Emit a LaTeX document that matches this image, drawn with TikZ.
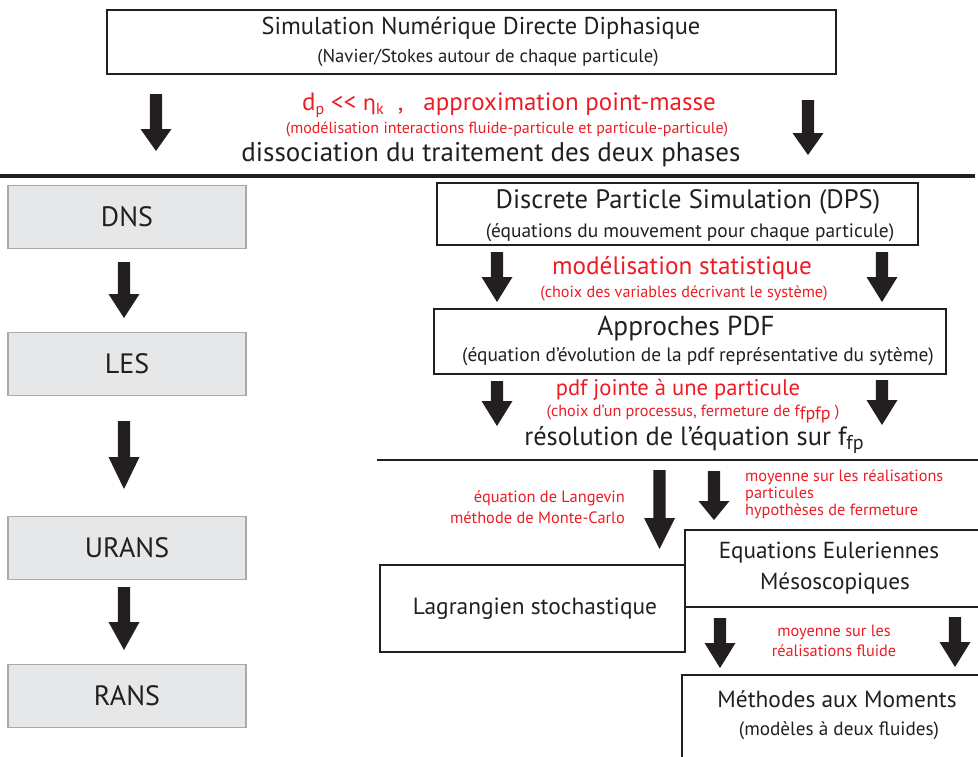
\documentclass[tikz,border=0pt]{standalone}
\usepackage{fontspec}
\setmainfont{PT Sans}
\newfontfamily\grk{DejaVu Sans}
\definecolor{rd}{HTML}{ED1C24}
\definecolor{boxgray}{HTML}{E6E7E8}
\definecolor{bordergray}{HTML}{A7A9AC}
\definecolor{ink}{HTML}{231F20}
\newcommand\fs[1]{\fontsize{#1}{#1}\selectfont}
\newcommand\sub[2]{\raisebox{-0.3ex}{\fs{#1}#2}}
\newcommand\barrow[4]{% x, ytop, ybottom, head height
  \fill[ink] ({#1-6.2},#2) -- ({#1+6.2},#2) -- ({#1+6.2},{#3-#4}) -- ({#1+15.5},{#3-#4})
   -- (#1,#3) -- ({#1-15.5},{#3-#4}) -- ({#1-6.2},{#3-#4}) -- cycle;}
\begin{document}
\begin{tikzpicture}[x=1pt,y=-1pt,
  box/.style={draw=ink, line width=1.6pt, inner sep=0pt},
  gbox/.style={draw=bordergray, fill=boxgray, line width=1.2pt, inner sep=0pt, minimum width=238pt, minimum height=63pt, font=\fs{28}, text=ink},
  txt/.style={inner sep=0pt, text=ink},
  rtxt/.style={inner sep=0pt, text=rd}]
\useasboundingbox (0,0) rectangle (978,756);
% top box
\node[box, minimum width=729pt, minimum height=64pt] (nsd) at (471.5,42) {};
\node[txt, font=\fs{24.4}] (nsdt) at (481,28) {Simulation Numérique Directe Diphasique};
\node[txt, font=\fs{18.7}] (nsds) at (488,58) {(Navier/Stokes autour de chaque particule)};
\barrow{156}{94}{151}{22}
\barrow{808}{100}{155}{22}
\node[rtxt, font=\fs{25}, anchor=east] (hyp) at (716,105) {d\sub{16}{p} {<}{<} {\grk\fs{21}η}\sub{16}{k}\hspace{14pt},\hspace{20pt}approximation point-masse};
\node[rtxt, font=\fs{16}] (hyps) at (507,129) {(modélisation interactions fluide-particule et particule-particule)};
\node[txt, font=\fs{27}] (diss) at (491,155) {dissociation du traitement des deux phases};
\draw[ink, line width=3.5pt] (0,176) coordinate (l1a) -- (975,176) coordinate (l1b);
% left column
\node[gbox] (dns) at (127,217) {DNS};
\node[gbox] (les) at (127,364) {LES};
\node[gbox] (urans) at (127,548) {URANS};
\node[gbox] (rans) at (127,696) {RANS};
\barrow{124}{262}{318}{24}
\barrow{124}{421}{489}{32}
\barrow{124}{587}{650}{28}
% DPS
\node[box, minimum width=481pt, minimum height=62pt] (dps) at (677.5,214) {};
\node[txt, font=\fs{26.6}] (dpst) at (688,202) {Discrete Particle Simulation (DPS)};
\node[txt, font=\fs{19.4}] (dpss) at (690,233) {(équations du mouvement pour chaque particule)};
\barrow{497}{252}{302}{25}
\barrow{882}{252}{302}{25}
\node[rtxt, font=\fs{25.2}] (stat) at (682,268) {modélisation statistique};
\node[rtxt, font=\fs{16.2}] (stats) at (684,293) {(choix des variables décrivant le système)};
% PDF
\node[box, minimum width=512pt, minimum height=65pt] (pdf) at (690,341.5) {};
\node[txt, font=\fs{27.4}] (pdft) at (686,328) {Approches PDF};
\node[txt, font=\fs{19.4}] (pdfs) at (698,357) {(équation d'évolution de la pdf représentative du sytème)};
\barrow{497}{381}{426}{25}
\barrow{882}{380}{425}{25}
\node[rtxt, font=\fs{22.6}] (joint) at (678,390) {pdf jointe à une particule};
\node[rtxt, font=\fs{16.2}] (joints) at (693,414) {(choix d'un processus, fermeture de f\sub{18}{fpfp} )};
\node[txt, font=\fs{26.4}] (resol) at (694,440) {résolution de l'équation sur f\sub{20}{fp}};
\draw[ink, line width=2.5pt] (377,460) coordinate (l2a) -- (978,460) coordinate (l2b);
% lower part
\barrow{659.5}{470}{549}{31}
\barrow{714}{471}{520}{19}
\node[rtxt, font=\fontsize{16.4}{20.5}\selectfont, align=right, anchor=east] (lang) at (625,507) {équation de Langevin\\méthode de Monte-Carlo};
\node[rtxt, font=\fontsize{16.3}{17}\selectfont, align=left, anchor=west] (moy) at (745,494) {moyenne sur les réalisations\\particules\\hypothèses de fermeture};
\node[box, minimum width=305pt, minimum height=87pt] (lag) at (532.5,608.5) {};
\node[txt, font=\fs{23.4}] (lagt) at (535,609) {Lagrangien stochastique};
\node[box, fill=white, minimum width=297pt, minimum height=77pt] (eul) at (833.5,568.5) {};
\node[txt, font=\fs{23.2}] (eult) at (829,553) {Equations Euleriennes};
\node[txt, font=\fs{23.2}] (eulm) at (835,583) {Mésoscopiques};
\barrow{720}{618}{668}{25}
\barrow{955}{617}{667}{25}
\node[rtxt, font=\fontsize{16.3}{19.5}\selectfont, align=center] (flu) at (834,641) {moyenne sur les\\réalisations fluide};
\node[box, minimum width=300pt, minimum height=90pt] (mom) at (832,720) {};
\node[txt, font=\fs{23.4}] (momt) at (837,699) {Méthodes aux Moments};
\node[txt, font=\fs{19.2}] (moms) at (839,731) {(modèles à deux fluides)};
\end{tikzpicture}
\end{document}
